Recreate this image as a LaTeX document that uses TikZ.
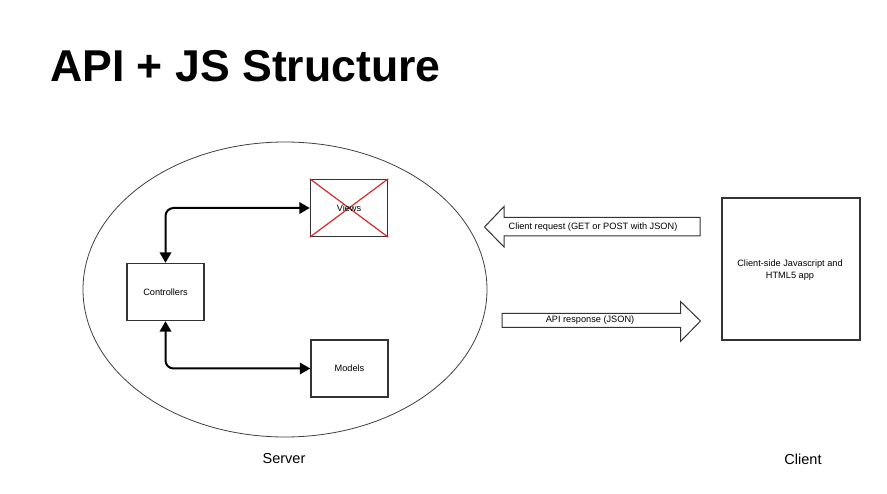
\documentclass[tikz,border=0pt]{standalone}
\usepackage{fontspec}
\setmainfont{Liberation Sans}
\usetikzlibrary{arrows.meta}
\definecolor{crossRed}{HTML}{D92B2B}
\definecolor{lineGray}{HTML}{333333}

\begin{document}
\begin{tikzpicture}[x=1pt,y=-1pt,
  box/.style={draw=lineGray,line width=1.4pt,fill=white,inner sep=0pt,
    minimum width=77pt,minimum height=57pt,font=\fontsize{9.2}{11.8}\selectfont},
  link/.style={line width=2pt,rounded corners=8pt,
    {Triangle[length=10.5pt,width=11.5pt]}-{Triangle[length=10.5pt,width=11.5pt]}},
  blockarrow/.style={draw=lineGray,line width=1pt,fill=white,line join=miter},
  small/.style={inner sep=0pt,font=\fontsize{9.2}{11.8}\selectfont},
  sidelabel/.style={inner sep=0pt,font=\fontsize{14.5}{17}\selectfont}]

  \fill[white] (0,0) rectangle (887,494);
  \useasboundingbox (0,0) rectangle (887,494);

  % Title
  \node[anchor=base west,inner sep=0pt,font=\bfseries\fontsize{44.6}{50}\selectfont] (title) at (50,82) {API + JS Structure};

  % Server side
  \draw[black!75,line width=0.8pt] (285,289.5) ellipse [x radius=202, y radius=147.5];
  \node[sidelabel] (server) at (284,459) {Server};

  \node[box] (views) at (349,208) {};
  \draw[crossRed,line width=1.2pt] (views.north west) -- (views.south east);
  \draw[crossRed,line width=1.2pt] (views.south west) -- (views.north east);
  \node[small] (viewsText) at (349,208.5) {Views};

  \node[box] (ctrl) at (165.5,292) {Controllers};
  \node[box] (models) at (349.5,368.5) {Models};

  \draw[link] (ctrl.north) |- (views.west);
  \draw[link] (ctrl.south) |- (models.west);

  % Request and response
  \draw[blockarrow] (700,217.5) -- (504,217.5) -- (504,206.5) -- (484.5,227) -- (504,247)
    -- (504,236) -- (700,236) -- cycle;
  \node[small] (request) at (593,227) {Client request (GET or POST with JSON)};

  \draw[blockarrow] (502,313.5) -- (680.5,313.5) -- (680.5,301.5) -- (700.5,321) -- (680.5,341.5)
    -- (680.5,327.5) -- (502,327.5) -- cycle;
  \node[small] (response) at (590,320.5) {API response (JSON)};

  % Client side
  \node[box,minimum width=138pt,minimum height=142pt] (client) at (791,269) {};
  \node[small,align=center] (clientText) at (790,270.5) {Client-side Javascript and\\HTML5 app};
  \node[sidelabel] (clientLabel) at (803,459) {Client};

\end{tikzpicture}
\end{document}
